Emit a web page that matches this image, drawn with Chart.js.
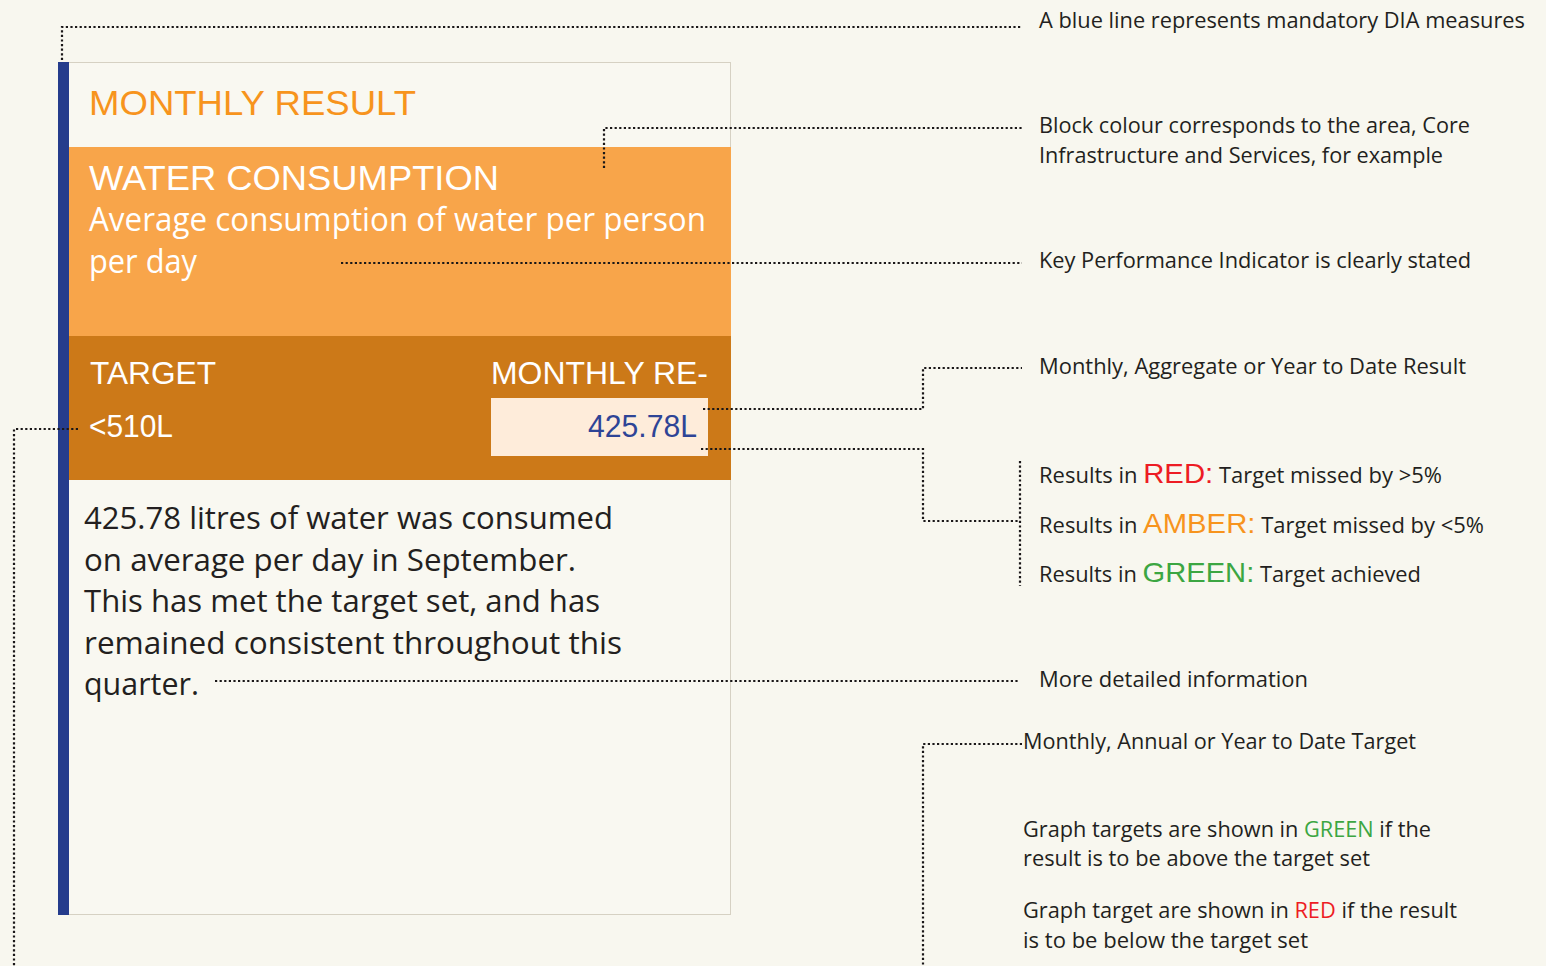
<!DOCTYPE html>
<html>
<head>
<meta charset="utf-8">
<title>Monthly result - water consumption</title>
<script src="https://cdn.jsdelivr.net/npm/chart.js@4.4.1/dist/chart.umd.min.js"></script>
<style>
  html, body { margin: 0; padding: 0; background: #f8f7ef; }
  #wrap { position: relative; width: 1546px; height: 966px; overflow: hidden; }
  #card, #leaders { position: absolute; left: 0; top: 0; }
  #leaders { pointer-events: none; }
  .head { font-family: "Liberation Sans", Arial, sans-serif; }
  .body { font-family: "Open Sans", "Noto Sans", sans-serif; }
</style>
</head>
<body>
<div id="wrap">
  <svg id="card" width="1546" height="966"></svg>
  <canvas id="leaders" width="1546" height="966"></canvas>
</div>
<script>
// values shown on the card
var kpiName = ['WATER CONSUMPTION'];
var kpiDesc = ['Average consumption of water per person', 'per day'];
var targetValue = [510];
var resultValue = [425.78];
var unit = ['L'];
var month = ['September'];

// notes on the right
var notes = [
  'A blue line represents mandatory DIA measures',
  'Block colour corresponds to the area, Core',
  'Infrastructure and Services, for example',
  'Key Performance Indicator is clearly stated',
  'Monthly, Aggregate or Year to Date Result',
  'More detailed information',
  'Monthly, Annual or Year to Date Target'
];
var ragNames = ['RED:', 'AMBER:', 'GREEN:'];
var ragText = ['Target missed by >5%', 'Target missed by <5%', 'Target achieved'];
var ragColours = ['#ed1c24', '#f7941d', '#3ca642'];

var svg = document.getElementById('card');
var NS = 'http://www.w3.org/2000/svg';

function el(name, attrs, parent) {
  var e = document.createElementNS(NS, name);
  for (var k in attrs) e.setAttribute(k, attrs[k]);
  (parent || svg).appendChild(e);
  return e;
}
// text on a baseline, squeezed to the width it has in the layout
function txt(str, x, y, w, cls, size, fill, anchor) {
  var t = el('text', {x: x, y: y, 'class': cls, 'font-size': size, fill: fill});
  if (w) { t.setAttribute('textLength', w); t.setAttribute('lengthAdjust', 'spacingAndGlyphs'); }
  if (anchor) t.setAttribute('text-anchor', anchor);
  t.textContent = str;
  return t;
}
function span(t, str, attrs) {
  var s = el('tspan', attrs || {}, t);
  s.textContent = str;
  return s;
}

// card
el('rect', {x: 58.5, y: 62.5, width: 672, height: 852, fill: '#f9f8f1', stroke: '#d6d1c3', 'stroke-width': 1});
el('rect', {x: 69, y: 147, width: 662, height: 189, fill: '#f8a54a'});
el('rect', {x: 69, y: 336, width: 662, height: 144, fill: '#cc7918'});
el('rect', {x: 491, y: 398, width: 217, height: 58, fill: '#feecda'});
el('rect', {x: 58, y: 62, width: 11, height: 853, fill: '#253c8c'});

txt('MONTHLY RESULT', 89, 115, 327, 'head', 35, '#f7941d');
txt(kpiName[0], 89, 190, 410, 'head', 35, '#ffffff');
txt(kpiDesc[0], 89, 231, 617, 'body', 32, '#ffffff');
txt(kpiDesc[1], 89, 273, 108, 'body', 32, '#ffffff');

txt('TARGET', 90, 384, 126, 'head', 31, '#ffffff');
txt('MONTHLY RE-', 491, 384, 217, 'head', 31, '#ffffff');
txt('<' + targetValue[0] + unit[0], 89, 437, 84, 'head', 31, '#ffffff');
txt(resultValue[0] + unit[0], 697, 437, 109, 'head', 31, '#2e4496', 'end');

var bodyLines = [
  resultValue[0] + ' litres of water was consumed',
  'on average per day in ' + month[0] + '.',
  'This has met the target set, and has',
  'remained consistent throughout this',
  'quarter.'
];
var bodyWidths = [529, 492, 516, 538, 115];
var bodyBase = [529, 571, 612, 654, 695];
bodyLines.forEach(function(s, i) {
  txt(s, 84, bodyBase[i], bodyWidths[i], 'body', 31, '#231f20');
});

// right column
var ink = '#231f20';
txt(notes[0], 1039, 28, 486, 'body', 21, ink);
txt(notes[1], 1039, 133, 431, 'body', 21, ink);
txt(notes[2], 1039, 163, 404, 'body', 21, ink);
txt(notes[3], 1039, 268, 432, 'body', 21, ink);
txt(notes[4], 1039, 374, 427, 'body', 21, ink);

var ragBase = [483, 533, 582];
var ragWidths = [403, 445, 382];
ragNames.forEach(function(n, i) {
  var t = txt('', 1039, ragBase[i], ragWidths[i], 'body', 21, ink);
  span(t, 'Results in ');
  span(t, n, {'class': 'head', 'font-size': 28, fill: ragColours[i]});
  span(t, ' ' + ragText[i]);
});

txt(notes[5], 1039, 687, 269, 'body', 21, ink);
txt(notes[6], 1023, 749, 393, 'body', 21, ink);

var g1 = txt('', 1023, 837, 408, 'body', 21, ink);
span(g1, 'Graph targets are shown in ');
span(g1, 'GREEN', {fill: '#3ca642'});
span(g1, ' if the');
txt('result is to be above the target set', 1023, 866, 347, 'body', 21, ink);
var g2 = txt('', 1023, 918, 434, 'body', 21, ink);
span(g2, 'Graph target are shown in ');
span(g2, 'RED', {fill: '#ed1c24'});
span(g2, ' if the result');
txt('is to be below the target set', 1023, 948, 285, 'body', 21, ink);

// dotted leader lines, drawn as line series on a page-sized chart
var leaderPaths = [
  [[62, 60], [62, 27], [1022, 27]],
  [[604, 168], [604, 128], [1022, 128]],
  [[341, 263], [1022, 263]],
  [[703, 409], [923, 409], [923, 368], [1022, 368]],
  [[701, 449], [923, 449], [923, 521], [1018, 521]],
  [[1020, 461], [1020, 586]],
  [[215, 681], [1020, 681]],
  [[78, 429], [14, 429], [14, 966]],
  [[1022, 744], [923, 744], [923, 966]]
];

var datasets = leaderPaths.map(function(p) {
  return {
    data: p.map(function(q) { return {x: q[0], y: q[1]}; }),
    showLine: true,
    borderColor: '#1a1718',
    borderWidth: 2.2,
    borderDash: [2.2, 2.4],
    pointRadius: 0,
    tension: 0,
    fill: false
  };
});

var leaderChart = new Chart(document.getElementById('leaders'), {
  type: 'scatter',
  data: { datasets: datasets },
  options: {
    responsive: false,
    animation: false,
    events: [],
    layout: { padding: 0 },
    plugins: { legend: { display: false }, tooltip: { enabled: false } },
    scales: {
      x: { type: 'linear', min: 0, max: 1546, display: false },
      y: { type: 'linear', min: 0, max: 966, reverse: true, display: false }
    }
  }
});
</script>
</body>
</html>
